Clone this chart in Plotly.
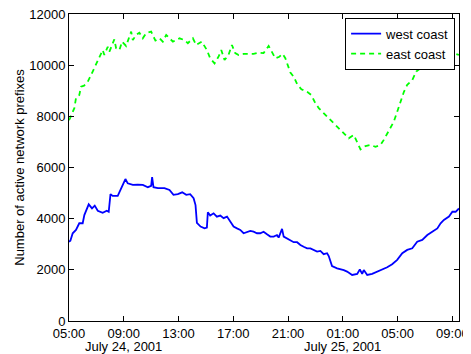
import pandas as pd
import plotly.graph_objects as go

# hours after 2001-07-24 05:00
west_hours = [0.0, 0.1, 0.27, 0.51, 0.75, 1.0, 1.12, 1.44, 1.68, 1.88, 2.1, 2.46, 2.76, 2.9, 3.03, 3.19,
              3.56, 3.8, 4.12, 4.29, 4.66, 5.02, 5.39, 5.76, 6.0, 6.07, 6.17, 6.49, 6.97, 7.34, 7.63,
              7.95, 8.27, 8.56, 8.85, 9.1, 9.24, 9.34, 9.61, 9.9, 10.07, 10.14, 10.31, 10.56, 10.8,
              11.05, 11.29, 11.54, 11.78, 12.02, 12.27, 12.51, 12.75, 13.0, 13.24, 13.48, 13.73,
              13.97, 14.21, 14.46, 14.7, 14.95, 15.19, 15.31, 15.56, 15.68, 15.92, 16.17, 16.41,
              16.66, 16.9, 17.14, 17.39, 17.63, 17.87, 18.12, 18.36, 18.6, 18.85, 18.97, 19.21,
              19.58, 20.07, 20.31, 20.68, 21.05, 21.24, 21.41, 21.53, 21.78, 22.14, 22.51, 22.87,
              23.24, 23.6, 23.97, 24.34, 24.7, 25.07, 25.43, 25.8, 26.17, 26.53, 26.9, 27.14,
              27.38, 27.75, 28.0, 28.24, 28.48]
west_values = [3100, 3140, 3430, 3560, 3820, 3820, 4140, 4560, 4400, 4510, 4310, 4230, 4310, 4270, 4960, 4890,
               4890, 5190, 5550, 5380, 5320, 5330, 5320, 5230, 5280, 5620, 5230, 5190, 5190, 5120, 4930,
               4960, 5030, 4930, 4960, 4800, 4530, 3840, 3690, 3620, 3650, 4250, 4120, 4210, 4080,
               4120, 4020, 4080, 3860, 3690, 3620, 3560, 3430, 3490, 3520, 3490, 3430,
               3430, 3490, 3390, 3300, 3300, 3360, 3260, 3600, 3300, 3230, 3170, 3080,
               3080, 2970, 2900, 2840, 2840, 2780, 2710, 2740, 2610, 2650, 2540, 2150,
               2060, 1990, 1930, 1800, 1840, 2020, 1840, 1990, 1800, 1840, 1930, 1990,
               2100, 2220, 2390, 2650, 2780, 2840, 3100, 3170, 3360, 3490, 3620, 3820,
               3950, 4080, 4270, 4270, 4400]

east_hours = [0.0, 0.07, 0.39, 0.51, 0.75, 0.88, 1.1, 1.37, 1.73, 2.1, 2.46, 2.58, 2.83, 2.95, 3.31, 3.44,
              3.68, 3.88, 4.17, 4.54, 4.66, 4.9, 5.14, 5.39, 5.63, 6.0, 6.31, 6.61, 6.85, 7.1, 7.59,
              8.07, 8.43, 8.68, 9.05, 9.29, 9.7, 10.07, 10.31, 10.63, 10.92, 11.12, 11.36, 11.65,
              11.9, 12.14, 12.39, 12.75, 13.12, 13.48, 13.85, 14.21, 14.58, 14.87, 15.07, 15.36,
              15.6, 15.8, 15.92, 16.17, 16.41, 16.66, 16.97, 17.39, 17.7, 17.94, 18.24, 18.6,
              18.97, 19.33, 19.7, 20.07, 20.43, 20.8, 21.05, 21.29, 21.65, 22.02, 22.38, 22.75,
              22.99, 23.36, 23.72, 23.97, 24.21, 24.46, 24.7, 25.07, 25.36, 25.68, 25.92, 26.17,
              26.41, 26.65, 26.9, 27.2, 27.5, 27.8, 28.1, 28.48]
east_values = [7850, 7920, 8320, 8710, 8830, 9160, 9200, 9350, 9750, 10200, 10590, 10400, 10720, 10530, 11010, 10660,
               10590, 10920, 10750, 11310, 10980, 11180, 11270, 11050, 11250, 11310, 10960, 11050, 10920, 11180, 10920,
               11050, 10980, 10860, 11050, 10790, 10920, 10590, 10270, 10070, 10330, 10590, 10200, 10400,
               10790, 10470, 10400, 10440, 10440, 10440, 10490, 10470, 10750, 10470, 10270, 10330,
               10440, 10270, 10070, 9710, 9550, 9260, 9060, 8960, 8830, 8570, 8320, 8120,
               7920, 7730, 7530, 7340, 7140, 7270, 7010, 6710, 6840, 6880, 6810, 6880,
               7080, 7470, 7790, 8180, 8570, 8960, 9230, 9420, 9750, 9880, 10140, 10400,
               10470, 10660, 10700, 10650, 10600, 10500, 10470, 10400]

tick_times = ["2001-07-24 05:00", "2001-07-24 09:00", "2001-07-24 13:00", "2001-07-24 17:00",
              "2001-07-24 21:00", "2001-07-25 01:00", "2001-07-25 05:00", "2001-07-25 09:00"]
tick_labels = ["05:00", "09:00", "13:00", "17:00", "21:00", "01:00", "05:00", "09:00"]
date_times = ["2001-07-24 09:00", "2001-07-25 01:00"]
date_labels = ["July 24, 2001", "July 25, 2001"]
y_ticks = [0, 2000, 4000, 6000, 8000, 10000, 12000]

start = pd.Timestamp("2001-07-24 05:00")
west_t = start + pd.to_timedelta(west_hours, unit="h")
east_t = start + pd.to_timedelta(east_hours, unit="h")

font = "Liberation Sans, Arial, Helvetica, sans-serif"

fig = go.Figure()
fig.add_trace(go.Scatter(x=west_t, y=west_values, mode="lines", name="west coast",
                         line=dict(color="#0000ff", width=1.8)))
fig.add_trace(go.Scatter(x=east_t, y=east_values, mode="lines", name="east coast",
                         line=dict(color="#00ff00", width=1.8, dash="5px,4px")))

axis_common = dict(showline=True, linecolor="black", linewidth=1, mirror="ticks",
                   ticks="inside", ticklen=5, tickcolor="black", showgrid=False,
                   zeroline=False, automargin=False, tickangle=0,
                   tickfont=dict(family=font, size=13, color="black"))

for t, lab in zip(date_times, date_labels):
    fig.add_annotation(x=t, y=0, xref="x", yref="paper", text=lab, showarrow=False,
                       xanchor="center", yanchor="top", yshift=-16,
                       font=dict(family=font, size=13, color="black"))

# page body has an 8px default margin, so the figure is sized/offset for it
fig.update_layout(
    width=463, height=346,
    margin=dict(l=61, r=12, t=6, b=33),
    paper_bgcolor="white", plot_bgcolor="white",
    font=dict(family=font, size=13, color="black"),
    xaxis=dict(range=["2001-07-24 05:00", "2001-07-25 09:29"], tickmode="array",
               tickvals=tick_times, ticktext=tick_labels, **axis_common),
    yaxis=dict(range=[0, 12000], tickmode="array", tickvals=y_ticks,
               ticktext=[str(v) for v in y_ticks],
               title=dict(text="Number of active network prefixes", font=dict(size=13), standoff=1),
               **axis_common),
    legend=dict(x=0.99, y=0.988, xanchor="right", yanchor="top", bgcolor="white",
                bordercolor="black", borderwidth=1, font=dict(size=13),
                tracegroupgap=0),
    showlegend=True,
)

fig.write_html("out.html")
